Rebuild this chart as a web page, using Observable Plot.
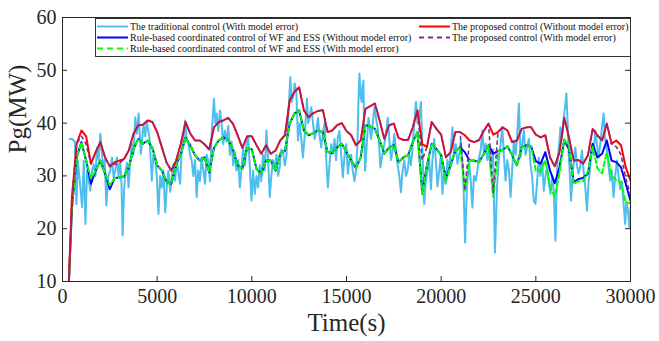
<!DOCTYPE html>
<html><head><meta charset="utf-8">
<script src="https://cdn.jsdelivr.net/npm/d3@7"></script>
<script src="https://cdn.jsdelivr.net/npm/@observablehq/plot@0.6"></script>
<style>
body{margin:0;background:#fff;}
#wrap{position:relative;width:659px;height:341px;font-family:"Times New Roman","Liberation Serif",Times,serif;}
#legend{position:absolute;left:95px;top:18px;width:536px;height:39px;border:1px solid #333;background:#fff;box-sizing:border-box;font-size:10px;color:#111;}
.item{position:absolute;display:flex;align-items:center;height:11px;white-space:nowrap;line-height:11px;}
.item svg{width:31px;height:11px;margin-right:2px;flex:none;}
</style></head><body><div id="wrap"><div id="chart"></div><div id="legend"></div></div>
<script>
// ---- data ----
const xTicks = [0, 5000, 10000, 15000, 20000, 25000, 30000];
const yTicks = [10, 20, 30, 40, 50, 60];
const seriesNames = [
  "The traditional control (With model error)",
  "Rule-based coordinated control of WF and ESS (Without model error)",
  "Rule-based coordinated control of WF and ESS (With model error)",
  "The proposed control (Without model error)",
  "The proposed control (With model error)"
];
// time grid (s) for the four controlled series: 250, 500, ..., 30000
const tGrid = d3.range(250, 30001, 250);
const proposedNoErr = [
  2,26,36.1,38.6,37.5,32.3,34.5,36.4,33.5,31.8,
  32.6,32.9,33.2,34.8,38,39.6,39.7,40.5,40.2,38.3,
  35.4,32.5,31,32.9,36.1,40.2,38,36.7,36.7,36,
  35,39.2,40.2,40.5,41,39.9,37.7,35.3,37.5,37.5,
  35.8,34.2,35.8,34.2,34.8,36.7,37.7,44.3,45.9,46.8,
  42.4,41.1,41.9,42.3,42.5,38.3,38.6,39.6,40,38.5,
  37.7,35.8,36.7,42.7,43.2,43.7,40.5,37,39.6,39.9,
  37.2,36.8,36.8,39.2,42.4,36,35.5,40.2,38.9,37.8,
  33.5,34.5,38.3,38.3,37.7,36.7,36.4,36.8,38.5,39.9,
  37.8,38.3,39.2,38.6,36.4,36.7,38.9,39.2,39.2,37.8,
  37.3,37.7,33.5,31.8,34.5,41,37.3,32.9,33,32.3,
  33.9,38.9,37.7,36.7,39.9,36.1,36.7,35.8,31.6,29.1
];
const proposedErr = [
  2,26,36.1,37.5,36,32.3,34.5,36.4,33.5,31.8,
  32.2,32.4,33.2,34.8,38,39.6,39.7,40.5,40.2,38.3,
  35.4,32.5,31,32.9,36.1,40.2,38,36.7,36.7,36,
  35,39.2,40.2,40.5,41,39.9,37.7,35.3,37.5,37.5,
  35.8,34.2,35.8,34.2,34.8,36.7,37.7,44.3,45.9,46.8,
  42.4,41.1,41.9,42.3,42.5,38.3,38.6,39.6,40,38.5,
  37.7,35.8,36.7,42.7,43.2,43.7,40.5,37,39.6,39.9,
  37.2,36.8,36.8,39.2,42.4,33,35.5,40.2,38.9,37.8,
  33.5,34.5,38.3,38.3,27.2,36.7,36.4,36.8,38.5,39.9,
  26.8,38.3,39.2,38.6,36.4,36.7,38.9,39.2,39.2,37.8,
  37.3,37.7,33.5,31.8,34.5,41,37.3,32.9,33,32.3,
  33.9,38.9,37.7,36.7,39.9,36.1,35.5,34,29.5,26.5
];
const ruleNoErr = [
  2,24,33.5,36.4,32.9,28.5,31,32.9,30.4,27.5,
  29.6,29.7,29.9,31.6,35.1,37,36.1,36.7,35.3,32,
  31,28.8,28.5,32,34.2,37.2,35.8,33.9,32.9,33.5,
  30.7,35.3,36.7,37.3,36.8,35.1,32,31.3,35.3,35,
  31.3,30.4,32.9,32.9,31,34.2,34.8,39.9,41.8,42.4,
  38.6,37.7,38.1,38.6,38.3,34.5,34.3,35.4,36.1,34.5,
  32.9,31.5,33.5,39.6,39.4,38.9,36.7,34.2,35.4,35.8,
  32.6,33.5,33.9,36.4,38.3,27,32,36.1,35.1,33.9,
  29.5,32,34.8,35.4,34.5,32.9,32.9,32.6,34.2,35.8,
  34.2,34.7,34.9,35.6,33.9,32,35.4,35.8,35.6,32.8,
  32.3,34.5,31,28.6,31.6,36.7,35.1,28.8,29.4,29.6,
  30.4,36.1,33.5,34.2,36.7,32.9,32.6,31.6,28.5,25.3
];
const ruleErr = [
  2,24,33.5,36.4,32.9,29.5,31,32.9,30.4,28.2,
  29.6,29.7,29.9,31.6,35.1,37,36.1,36.7,35.3,32,
  31,28.8,28.5,32,34.2,37.2,35.8,33.9,32.9,33.5,
  30.7,35.3,36.7,37.3,36.8,35.1,32,31.3,35.3,35,
  31.3,30.4,32.9,32.9,31,34.2,34.8,39.9,41.8,42.4,
  38.6,37.7,38.1,38.6,38.3,34.5,34.3,35.4,36.1,34.5,
  32.9,31.5,33.5,39.6,39.4,38.9,36.7,34.2,35.4,35.8,
  32.6,33.5,33.9,36.4,38.3,26.5,32,36.1,35.1,33.9,
  29,32,34.8,35.4,27.2,32.9,32.9,32.6,34.2,35.8,
  26,34.7,34.9,35.6,33.9,32,35.4,35.8,35.6,31,
  30.8,33,28,26,30.5,37,35.5,28.5,29,29,
  30.8,35.5,31.5,30.5,34.5,30,29.2,28.8,25,24.8
];
// traditional control (noisy), own time samples
const tradT = [
  370,500,650,737,807,912,1035,1123,1210,1298,1390,1473,1560,1649,1740,1824,1910,2000,2070,2140,
  2230,2315,2420,2526,2610,2701,2790,2877,2960,3052,3120,3175,3250,3315,3400,3490,3580,3666,3750,3841,
  3930,4017,4080,4140,4210,4280,4370,4455,4530,4595,4660,4718,4800,4894,4980,5069,5160,5246,5330,5421,
  5510,5596,5690,5780,5860,5947,6040,6120,6210,6300,6400,6473,6560,6649,6740,6824,6910,7000,7087,7170,
  7260,7350,7440,7530,7610,7701,7790,7880,7999,8070,8140,8230,8315,8400,8490,8578,8670,8754,8840,8930,
  9020,9105,9190,9280,9368,9450,9543,9630,9720,9806,9890,9982,10070,10157,10250,10333,10420,10500,10590,10680,
  10772,10860,10947,11030,11120,11210,11300,11390,11473,11560,11649,11740,11824,11900,11960,12035,12100,12175,12263,12350,
  12438,12530,12610,12701,12800,12912,12980,13052,13140,13230,13320,13403,13490,13580,13666,13750,13841,13930,14017,14100,
  14190,14280,14370,14450,14543,14630,14720,14806,14900,14990,15070,15160,15246,15330,15421,15500,15580,15630,15684,15750,
  15807,15850,15895,15940,15982,16070,16158,16230,16298,16390,16473,16560,16649,16720,16789,16890,17000,17090,17175,17260,
  17350,17440,17526,17610,17701,17790,17877,17960,18052,18140,18228,18320,18400,18491,18580,18666,18750,18841,18929,19010,
  19105,19190,19280,19370,19456,19540,19631,19720,19806,19900,19982,20070,20160,20246,20330,20421,20510,20596,20680,20770,
  20859,20950,21035,21100,21158,21263,21360,21473,21560,21649,21730,21824,21910,22000,22090,22175,22260,22350,22440,22530,
  22613,22680,22736,22841,22950,23052,23140,23228,23310,23403,23490,23580,23666,23750,23841,23930,24020,24105,24193,24280,
  24368,24450,24543,24630,24719,24800,24894,24982,25070,25158,25240,25330,25421,25510,25596,25680,25772,25860,25950,26035,
  26100,26158,26230,26298,26380,26473,26540,26614,26680,26737,26800,26859,26960,27087,27170,27263,27350,27438,27520,27610,
  27701,27790,27880,27964,28050,28140,28230,28315,28400,28490,28578,28660,28754,28840,28929,29010,29105,29190,29280,29370,
  29456,29540,29630,29719,29780,29842,29900,29947,30000
];
const tradV = [
  37,37,36.5,24.7,32.9,29.1,24.1,32.9,20.9,31,29,27.2,31,32.2,30,35.4,33,38,35,31.6,
  33,24.4,30,31,33.5,29.7,31,33.5,30,32.9,28,18.7,27,30.4,32.5,27.8,33,36.1,34,41.1,
  38,41.8,38,34.2,37,39.9,37.5,40.5,38.5,37.3,33,29.1,34,32.9,30,22.8,30,27.8,31,23.1,
  28,31,27,30,32.3,29.1,33,30.5,28.5,35,37,40.5,37,36.1,34,32.9,30,33,26,31,
  29,33.5,31,28.5,34,32.9,29,38,44.6,40,41.8,38.5,42.4,40,36,38.6,36.5,39.5,34,36.5,
  32,34.5,31,33,27.8,31,35.4,32,36,37.3,32,25.3,31,26.6,30,27.8,32,29,34,31,
  38.6,33,26,30,33,31.5,34,30,31.6,35,34.5,32,33.5,40,44,48.7,44,45,47.5,45.9,
  36.7,40,37,33.5,38,44.6,40,41,43,40,37,38.6,41,37.5,35.4,38,40,33,27.8,32,
  36,34.2,37,33,37.3,38.5,34,29.7,34,36,30.4,33,34,31,29,31,36,44,49.4,45,
  44,47,48,38,31,36,41,39,37,40,43,41,39,36,31.6,34,36,38,41,37,
  33,35,38,35,32,30,26.9,31,33,30,31,34,32,35.4,40,44,40,41,44,35,
  24.7,29,31,33,27.5,33,37,33,28,31,34,26.6,31,28.5,33,31,35,39.2,34,36,
  32.3,34,36.7,34,31,17.4,28,32.9,29,24,30,29.1,31,33.5,35,38.6,34,36.1,33,35,
  31,34,35,15.5,28,33.5,36,39.2,34,29.1,33,31,26,31,36.7,34,38,43.7,33.5,36,
  38.6,34,35.4,37,32.3,30,25.3,24.7,29,33.5,30,33,27.2,30,31.6,29,26.6,30,27,17.7,
  28,33.5,36,39.2,37,41,43,45.6,40,34.2,30,25.3,31,35.4,32,30.4,32,34.8,31,28,
  23.4,29,32,35.6,34,38.6,36,33.5,36,39,41.8,37,34.8,32,29.1,31,26,30,32.9,30,
  27.5,29,25,20.9,25,24,22,20.3,24
];

// ---- layout ----
const W = 659, H = 341, mL = 62, mR = 29, mT = 17, mB = 60;
const innerW = W - mL - mR, innerH = H - mT - mB;
const rows = vals => tGrid.map((t, i) => ({t, v: vals[i]}));
const trad = tradT.map((t, i) => ({t, v: tradV[i]}));
const colors = ["#4DBEEE", "#0000FF", "#00FF00", "#FF0000", "#7E2F8E"];
const dashes = [null, null, "5,3", null, "3,4"];
const axisColor = "#262626";
const serif = "'Times New Roman','Liberation Serif',Times,serif";

const chart = Plot.plot({
  width: W, height: H,
  marginLeft: mL, marginRight: mR, marginTop: mT, marginBottom: mB,
  style: {fontFamily: serif, fontSize: "20px", color: axisColor, background: "#fff"},
  x: {domain: [0, 30000]},
  y: {domain: [10, 60]},
  marks: [
    Plot.line(trad, {x: "t", y: "v", stroke: colors[0], strokeWidth: 2, clip: true}),
    Plot.line(rows(ruleNoErr), {x: "t", y: "v", stroke: colors[1], strokeWidth: 2, clip: true}),
    Plot.line(rows(ruleErr), {x: "t", y: "v", stroke: colors[2], strokeWidth: 2, strokeDasharray: dashes[2], clip: true}),
    Plot.line(rows(proposedNoErr), {x: "t", y: "v", stroke: colors[3], strokeWidth: 2, clip: true}),
    Plot.line(rows(proposedErr), {x: "t", y: "v", stroke: colors[4], strokeWidth: 1.6, strokeDasharray: dashes[4], clip: true}),
    Plot.frame({stroke: axisColor, strokeWidth: 1}),
    Plot.ruleX(xTicks, {x: d => d, insetTop: innerH - 5, stroke: axisColor}),
    Plot.ruleX(xTicks, {x: d => d, insetBottom: innerH - 5, stroke: axisColor}),
    Plot.ruleY(yTicks, {y: d => d, insetRight: innerW - 5, stroke: axisColor}),
    Plot.ruleY(yTicks, {y: d => d, insetLeft: innerW - 5, stroke: axisColor}),
    Plot.axisX(xTicks, {tickSize: 0, tickPadding: 7, fontSize: 20, fontFamily: serif, label: null, tickFormat: d => String(d)}),
    Plot.axisY(yTicks, {tickSize: 0, tickPadding: 6, fontSize: 20, fontFamily: serif, label: null}),
    Plot.text(["Time(s)"], {text: d => d, frameAnchor: "bottom", dy: 49, fontSize: 25, fontFamily: serif}),
    Plot.text(["Pg(MW)"], {text: d => d, frameAnchor: "left", dx: -45, dy: 4, rotate: -90, fontSize: 25, fontFamily: serif})
  ]
});
document.getElementById("chart").appendChild(chart);

// ---- legend ----
const legend = document.getElementById("legend");
const pos = [[1, 2], [1, 13], [1, 24], [323, 2], [323, 13]];
seriesNames.forEach((name, i) => {
  const it = document.createElement("div");
  it.className = "item";
  it.style.left = pos[i][0] + "px";
  it.style.top = pos[i][1] + "px";
  const dash = dashes[i] ? `stroke-dasharray="${i === 2 ? "6,4" : "5,4"}"` : "";
  it.innerHTML = `<svg viewBox="0 0 31 11"><line x1="0" x2="31" y1="5.5" y2="5.5" stroke="${colors[i]}" stroke-width="2" ${dash}/></svg><span>${name}</span>`;
  legend.appendChild(it);
});
</script>
</body></html>
